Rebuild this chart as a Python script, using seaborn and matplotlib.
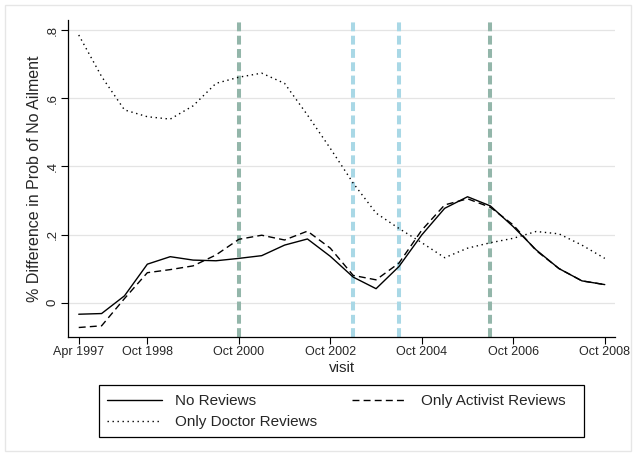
import pandas as pd
import matplotlib
matplotlib.use('Agg')
import matplotlib.pyplot as plt
import seaborn as sns

# six-monthly visit dates
visit = ['1997-04', '1997-10', '1998-04', '1998-10', '1999-04', '1999-10',
         '2000-04', '2000-10', '2001-04', '2001-10', '2002-04', '2002-10',
         '2003-04', '2003-10', '2004-04', '2004-10', '2005-04', '2005-10',
         '2006-04', '2006-10', '2007-04', '2007-10', '2008-04', '2008-10']

no_reviews = [-0.034, -0.032, 0.020, 0.113, 0.135, 0.125, 0.123, 0.130,
              0.138, 0.169, 0.187, 0.136, 0.075, 0.041, 0.106, 0.199,
              0.277, 0.311, 0.284, 0.223, 0.155, 0.100, 0.064, 0.053]
activist_only = [-0.073, -0.068, 0.012, 0.088, 0.097, 0.108, 0.140, 0.186,
                 0.198, 0.184, 0.210, 0.160, 0.080, 0.067, 0.116, 0.213,
                 0.287, 0.305, 0.280, 0.228, 0.153, 0.100, 0.064, 0.053]
doctor_only = [0.786, 0.664, 0.566, 0.546, 0.539, 0.578, 0.644, 0.662,
               0.674, 0.644, 0.551, 0.453, 0.351, 0.263, 0.218, 0.176,
               0.132, 0.160, 0.176, 0.189, 0.209, 0.202, 0.169, 0.130]

# policy dates marked with vertical lines
dark_events = ['2000-10', '2006-04']
light_events = ['2003-04', '2004-04']

tick_dates = ['1997-04', '1998-10', '2000-10', '2002-10', '2004-10', '2006-10', '2008-10']
y_ticks = [0, 0.2, 0.4, 0.6, 0.8]
y_ticklabels = ['0', '.2', '.4', '.6', '.8']


def to_month(s):
    p = pd.Period(s, freq='M')
    return (p.year - 1960) * 12 + p.month - 1  # Stata %tm


df = pd.DataFrame({'visit': [to_month(v) for v in visit],
                   'No Reviews': no_reviews,
                   'Only Activist Reviews': activist_only,
                   'Only Doctor Reviews': doctor_only})
long_df = df.melt(id_vars='visit', var_name='series', value_name='diff')

sns.set_style('white')
plt.rcParams['font.family'] = ['Liberation Sans', 'DejaVu Sans']

fig = plt.figure(figsize=(6.35, 4.55), dpi=100)
ax = fig.add_axes([0.1076, 0.26, 0.861, 0.696])

dashes = {'No Reviews': '', 'Only Activist Reviews': (5, 3), 'Only Doctor Reviews': (1, 2.6)}
sns.lineplot(data=long_df, x='visit', y='diff', hue='series', style='series',
             palette=['black'] * 3, dashes=dashes, linewidth=1.0, ax=ax, legend=False)

vstyle = (0, (2.2, 1.1))
for d in dark_events:
    ax.axvline(to_month(d), color='#93b6aa', linewidth=2.9, linestyle=vstyle, zorder=1)
for d in light_events:
    ax.axvline(to_month(d), color='#a9d8e6', linewidth=2.9, linestyle=vstyle, zorder=1)

x0 = to_month('1997-04')
x1 = to_month('2008-10')
ax.set_xlim(x0 - 2.73, x1 + 2.7)
ax.set_ylim(-0.1, 0.83)

ax.set_xticks([to_month(t) for t in tick_dates])
ax.set_xticklabels([pd.Period(t, freq='M').strftime('%b %Y') for t in tick_dates], fontsize=9)
ax.set_yticks(y_ticks)
ax.set_yticklabels(y_ticklabels, rotation=90, va='center', fontsize=9.5)
ax.tick_params(axis='both', direction='out', length=5, width=0.8, color='black', pad=2,
               bottom=True, left=True)
ax.yaxis.grid(True, color='#e4e4e4', linewidth=0.9)
ax.xaxis.grid(False)

for side in ['top', 'right']:
    ax.spines[side].set_visible(False)
for side in ['left', 'bottom']:
    ax.spines[side].set_color('black')
    ax.spines[side].set_linewidth(0.9)

ax.set_xlabel('visit', fontsize=11, labelpad=2)
ax.set_ylabel('% Difference in Prob of No Ailment', fontsize=11.5, labelpad=3)

handles = [plt.Line2D([], [], color='black', lw=1.0),
           plt.Line2D([], [], color='black', lw=1.0, linestyle=(0, (1, 2.6))),
           plt.Line2D([], [], color='black', lw=1.0, linestyle=(0, (5, 3)))]
labels = ['No Reviews', 'Only Doctor Reviews', 'Only Activist Reviews']
leg = fig.legend(handles, labels, ncol=2, loc='upper left',
                 bbox_to_anchor=(106.7 / 635, 1 - 394 / 455), borderaxespad=0, borderpad=0,
                 fontsize=11, frameon=False, handlelength=3.6, handletextpad=0.9,
                 labelspacing=0.48, columnspacing=2.25)

# legend box and light frame around the graph region
fig.patches.append(plt.Rectangle((99.3 / 635, 1 - 436.7 / 455), 484.7 / 635, 51.7 / 455,
                                 transform=fig.transFigure, fill=False,
                                 edgecolor='black', linewidth=0.9))
fig.patches.append(plt.Rectangle((5 / 635, 4 / 455), 626 / 635, 446 / 455, transform=fig.transFigure,
                                 fill=False, edgecolor='#e6e6e6', linewidth=1.0))

fig.savefig('out.png', dpi=100)
